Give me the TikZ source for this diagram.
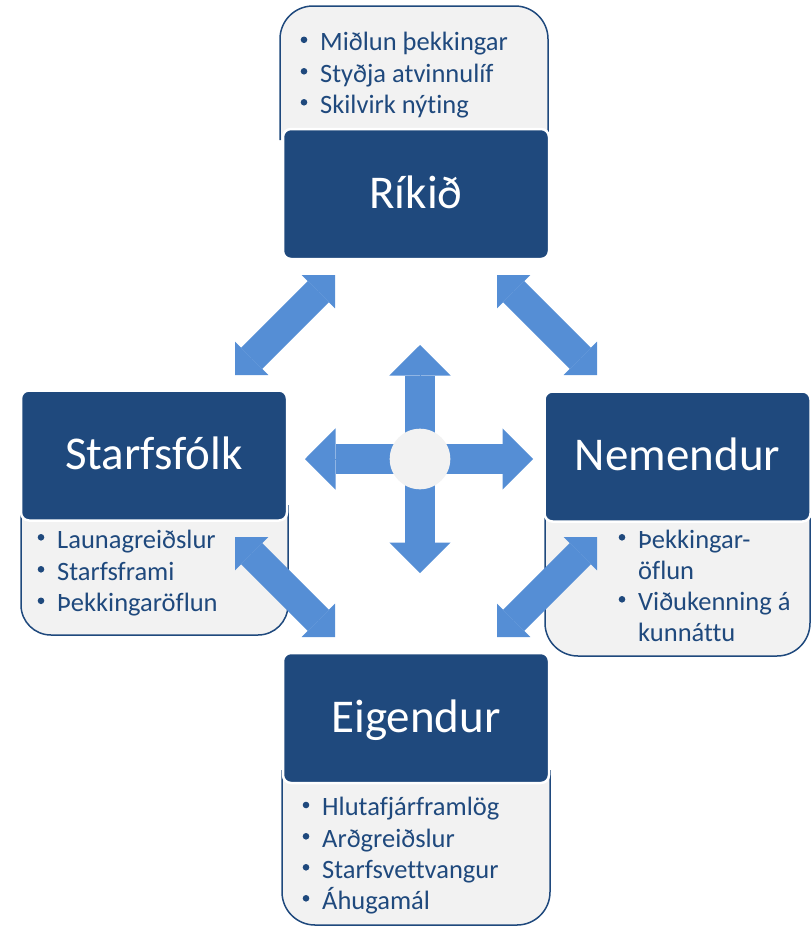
\documentclass[tikz,border=0pt]{standalone}
\usepackage{fontspec}
\setmainfont{Carlito}[Ligatures={NoCommon}]
\usetikzlibrary{arrows.meta}
\definecolor{dkblue}{RGB}{31,73,125}
\definecolor{arblue}{RGB}{85,142,213}
\definecolor{ltgray}{RGB}{242,242,242}
\tikzset{
  lightbox/.style={fill=ltgray, draw=dkblue, line width=1.5pt},
  darkbox/.style={rectangle, rounded corners=8pt, fill=dkblue, draw=white, line width=2.5pt,
    minimum width=266pt, minimum height=130pt, inner sep=0pt,
    text=white, font=\fontsize{47}{52}\selectfont, text height=28.3pt, text depth=0pt},
  item/.style={text=dkblue, font=\fontsize{26.5}{31}\selectfont, anchor=base west, inner sep=0pt},
  dtip/.tip={Triangle[length=23.6pt,width=47.2pt,line width=0pt]},
  ctip/.tip={Triangle[length=30.5pt,width=61.4pt,line width=0pt]},
  diagarrow/.style={draw=arblue, line width=30pt, {dtip}-{dtip},
    preaction={draw=arblue, -, shorten >=19pt, shorten <=19pt}},
  crossarrow/.style={draw=arblue, line width=30.6pt, -{ctip},
    preaction={draw=arblue, -, shorten >=25pt}},
  hubstyle/.style={circle, fill=ltgray, minimum size=60.6pt, inner sep=0pt},
  bulletdot/.style={fill=dkblue}
}
\newcommand{\dotat}[1]{\fill[bulletdot] ([xshift=-16pt,yshift=10.7pt]#1.base west) circle (3.3pt);}
\begin{document}
\begin{tikzpicture}[x=1pt,y=-1pt]
\useasboundingbox (0,0) rectangle (811,926);

% light boxes
\path[lightbox, rounded corners=33pt] (280,140) -- (280,6) -- (548,6) -- (548,140);
\path[lightbox, rounded corners=30pt] (21,505) -- (21,635) -- (288,635) -- (288,505);
\path[lightbox, rounded corners=33pt] (545,505) -- (545,656) -- (810,656) -- (810,505);
\path[lightbox, rounded corners=33pt] (282,770) -- (282,925) -- (550,925) -- (550,770);

% dark boxes
\node[darkbox] (rikid) at (416,194) {Ríkið};
\node[darkbox] (starf) at (154,455.5) {Starfsfólk};
\node[darkbox] (nem) at (677.5,456.5) {Nemendur};
\node[darkbox] (eig) at (416,718) {Eigendur};

% list items
\node[item] (r1) at (320,50.5) {Miðlun þekkingar};
\node[item] (r2) at (320,82) {Styðja atvinnulíf};
\node[item] (r3) at (320,113) {Skilvirk nýting};

\node[item] (s1) at (57,548) {Launagreiðslur};
\node[item] (s2) at (57,580) {Starfsframi};
\node[item] (s3) at (57,611.5) {Þekkingaröflun};

\node[item] (n1) at (638,548) {Þekkingar-};
\node[item] (n2) at (638,579) {öflun};
\node[item] (n3) at (638,610) {Viðukenning á};
\node[item] (n4) at (638,641.5) {kunnáttu};

\node[item] (e1) at (322,815.7) {Hlutafjárframlög};
\node[item] (e2) at (322,847) {Arðgreiðslur};
\node[item] (e3) at (322,878) {Starfsvettvangur};
\node[item] (e4) at (322,909) {Áhugamál};

% bullets
\dotat{r1} \dotat{r2} \dotat{r3}
\dotat{s1} \dotat{s2} \dotat{s3}
\dotat{n1} \dotat{n3}
\dotat{e1} \dotat{e2} \dotat{e3} \dotat{e4}

% arrow end points
\coordinate (tlA) at (335,275); \coordinate (tlB) at (235,375);
\coordinate (trA) at (497,275); \coordinate (trB) at (597,375);
\coordinate (blA) at (235,537); \coordinate (blB) at (335,637);
\coordinate (brA) at (597,537); \coordinate (brB) at (497,637);
\coordinate (c) at (420,459);
\coordinate (cu) at (420,345); \coordinate (cd) at (420,573);
\coordinate (cl) at (305,459); \coordinate (cr) at (533,459);

\draw[diagarrow] (tlA) -- (tlB);
\draw[diagarrow] (trA) -- (trB);
\draw[diagarrow] (blA) -- (blB);
\draw[diagarrow] (brA) -- (brB);

\draw[crossarrow] (c) -- (cu);
\draw[crossarrow] (c) -- (cd);
\draw[crossarrow] (c) -- (cl);
\draw[crossarrow] (c) -- (cr);

\node[hubstyle] (hub) at (c) {};
\end{tikzpicture}
\end{document}
